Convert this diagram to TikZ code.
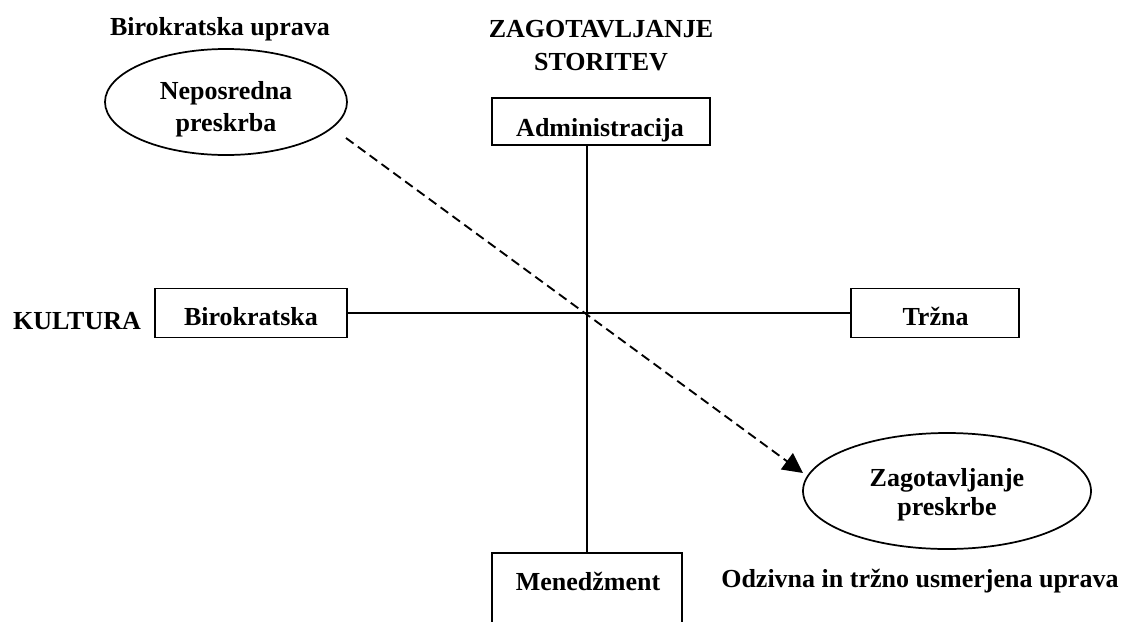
\documentclass[tikz,border=0pt]{standalone}
\usepackage{fontspec}
\setmainfont{Liberation Serif}
\usetikzlibrary{shapes.geometric,arrows.meta}
\begin{document}
\begin{tikzpicture}[x=0.75pt,y=-0.75pt,
  every node/.style={font=\fontsize{19.5}{24}\selectfont\bfseries},
  txt/.style={inner sep=0pt, anchor=base},
  box/.style={draw, line width=1.3pt, inner sep=0pt},
  oval/.style={draw, ellipse, line width=1.3pt, inner sep=0pt},
  axis/.style={line width=1.5pt},
  flow/.style={line width=1.4pt, dash pattern=on 7pt off 4pt,
    -{Triangle[length=15pt,width=15pt]}}]
\useasboundingbox (0,0) rectangle (1126,621);
\clip (0,0) rectangle (1126,621);

% upper left: bureaucratic administration
\node[txt] (tbu) at (220,35) {Birokratska uprava};
\node[oval, minimum width=181.5pt, minimum height=79.5pt] (e1) at (226,102) {};
\node[txt] (e1a) at (226,99) {Neposredna};
\node[txt] (e1b) at (226,131) {preskrba};

% vertical axis: service provision
\node[txt] (za) at (601,37) {ZAGOTAVLJANJE};
\node[txt] (zb) at (601,70) {STORITEV};
\node[box, minimum width=163.5pt, minimum height=35.25pt] (adm) at (601,121.5) {};
\node[txt] (admt) at (600,136) {Administracija};
\node[box, minimum width=142.5pt, minimum height=82.5pt] (men) at (587,608) {};
\node[txt] (ment) at (588,590) {Menedžment};

% horizontal axis: culture
\node[txt] (kul) at (77,329) {KULTURA};
\node[box, minimum width=144pt, minimum height=36.75pt] (bir) at (251,313) {};
\node[txt] (birt) at (251,325) {Birokratska};
\node[box, minimum width=126pt, minimum height=36.75pt] (trz) at (935,313) {};
\node[txt] (trzt) at (935.5,325) {Tržna};

% lower right: responsive, market-oriented administration
\node[oval, minimum width=216pt, minimum height=87pt] (e2) at (947,491) {};
\node[txt] (e2a) at (947,486) {Zagotavljanje};
\node[txt] (e2b) at (947,515) {preskrbe};
\node[txt, anchor=base west] (odz) at (721,587) {Odzivna in tržno usmerjena uprava};

% axes
\draw[axis] (bir.east) -- (trz.west);
\draw[axis] (adm.south -| men.north) -- (men.north);

% shift from direct provision to provision arrangement
\coordinate (ds) at (346,138);
\coordinate (de) at (803,473);
\draw[flow] (ds) -- (de);
\end{tikzpicture}
\end{document}
